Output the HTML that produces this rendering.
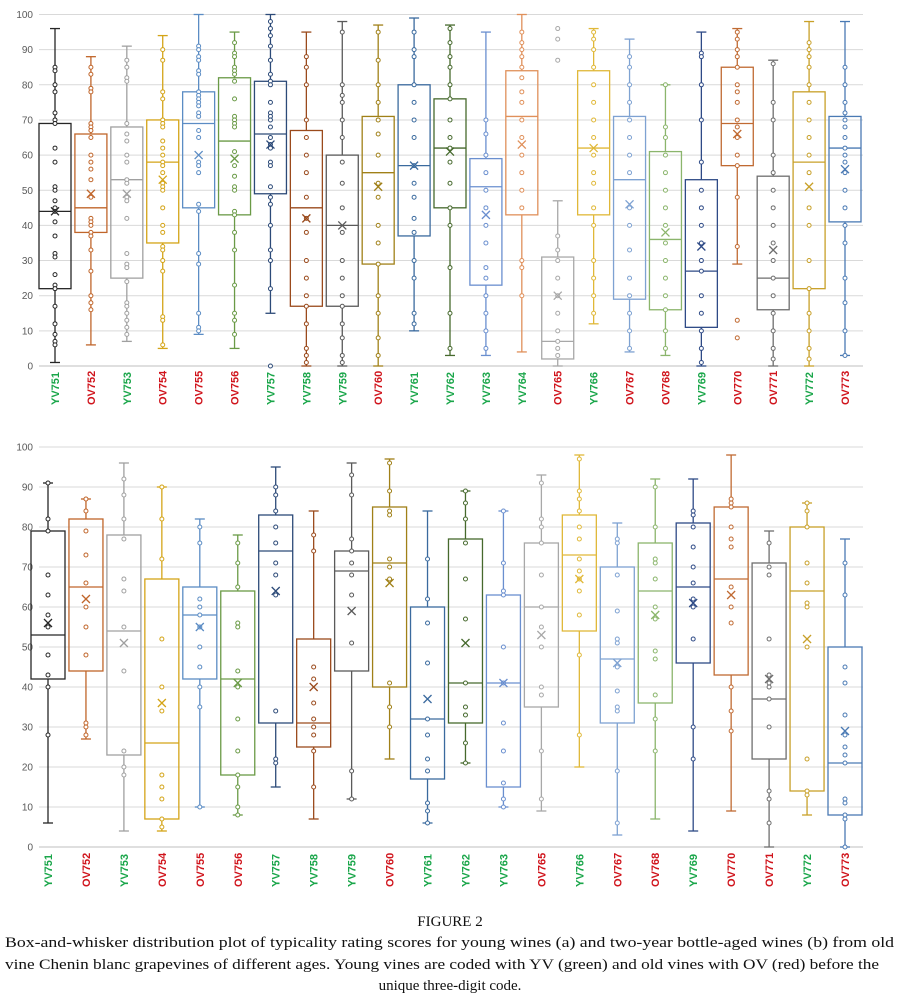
<!DOCTYPE html>
<html><head><meta charset="utf-8"><style>
body{margin:0;background:#fff;}
svg{display:block;}
</style></head><body>
<svg id="fig" width="901" height="1002" viewBox="0 0 901 1002" xmlns="http://www.w3.org/2000/svg" font-family="'Liberation Sans', sans-serif">
<g id="chartA"></g>
<g id="chartB"></g>
<g font-family="'Liberation Serif', serif" font-size="15" fill="#111">
<text x="450" y="926" text-anchor="middle">FIGURE 2</text>
<text x="5" y="947" textLength="889" lengthAdjust="spacingAndGlyphs">Box-and-whisker distribution plot of typicality rating scores for young wines (a) and two-year bottle-aged wines (b) from old</text>
<text x="5" y="969" textLength="874" lengthAdjust="spacingAndGlyphs">vine Chenin blanc grapevines of different ages. Young vines are coded with YV (green) and old vines with OV (red) before the</text>
<text x="450" y="990" text-anchor="middle">unique three-digit code.</text>
</g>
</svg>
<script>
const catsA=["YV751","OV752","YV753","OV754","OV755","OV756","YV757","YV758","YV759","OV760","YV761","YV762","YV763","YV764","OV765","YV766","OV767","OV768","YV769","OV770","OV771","YV772","OV773"];
const minA=[1,6,7,5,9,5,15,0,0,0,10,3,3,4,0,12,4,3,0,29,0,0,3];
const q1A=[22,38,25,35,45,43,49,17,17,29,37,45,23,43,2,43,19,16,11,57,16,22,41];
const medA=[44,45,53,58,69,64,66,45,40,55,57,62,51,71,7,62,53,36,27,69,25,58,62];
const q3A=[69,66,68,70,78,82,81,67,60,71,80,76,59,84,31,84,71,61,53,85,54,78,71];
const maxA=[96,88,91,94,100,95,100,95,98,97,99,97,95,100,47,96,93,80,95,96,87,98,98];
const meanA=[44,49,49,53,60,59,63,42,40,51,57,61,43,63,20,62,46,38,34,66,33,51,56];
const ptsA=[
[85,84,80,78,72,70,69,62,58,51,50,47,45,44,41,37,32,31,26,23,22,17,12,9,7,6],
[85,83,79,78,69,68,67,65,60,58,56,53,48,42,41,40,38,37,33,27,20,18,16],
[87,85,82,81,69,66,64,60,58,53,52,48,47,42,32,29,28,24,18,17,15,13,11,9],
[90,87,78,76,70,69,68,64,62,60,58,57,55,52,51,50,45,40,38,34,33,30,27,14,13,6],
[91,90,88,87,84,83,78,77,76,75,74,72,71,67,65,58,57,55,46,44,32,29,15,11,10],
[92,89,88,85,84,83,81,76,71,70,69,68,61,57,54,51,50,44,43,38,33,23,15,13,9],
[98,96,94,91,87,83,81,80,75,72,71,70,68,65,63,62,58,57,51,48,46,40,33,30,22,0],
[88,85,80,70,65,60,55,48,42,38,30,25,20,17,12,5,3,1],
[95,80,77,75,70,65,58,52,45,38,30,25,20,17,12,8,3,1],
[95,87,80,75,70,66,60,52,48,40,35,29,20,15,8,3],
[95,90,88,80,75,70,65,57,52,48,42,38,30,25,15,12],
[96,92,88,85,80,76,70,65,62,58,52,45,40,28,15,5],
[70,66,60,55,50,45,40,35,28,25,20,15,10,5],
[95,92,90,88,85,82,78,75,70,65,60,55,50,45,30,28,20],
[96,93,87,37,33,30,25,20,15,10,7,5,3],
[95,93,90,85,80,75,70,65,60,55,52,45,40,30,25,20,15],
[88,85,80,75,70,65,60,55,45,40,33,25,20,15,10,5],
[80,68,65,60,55,50,45,40,35,30,25,20,16,10,5],
[89,88,80,70,58,50,45,40,35,30,27,20,15,10,5,1],
[95,93,90,88,85,80,78,75,70,68,65,60,57,48,34,13,8],
[86,75,70,60,55,50,45,40,35,30,25,20,15,10,5,2],
[92,90,88,85,80,75,70,65,60,55,45,40,30,22,15,10,5,2],
[85,80,75,72,70,68,65,62,60,58,55,50,45,40,35,25,18,10,3]];

const catsB=["YV751","OV752","YV753","OV754","OV755","OV756","YV757","YV758","YV759","OV760","YV761","YV762","YV763","OV765","YV766","OV767","OV768","YV769","OV770","OV771","YV772","OV773"];
const minB=[6,27,4,4,10,8,15,7,12,22,6,21,10,9,20,3,7,4,9,0,8,0];
const q1B=[42,44,23,7,42,18,31,25,44,40,17,31,15,35,54,31,36,46,43,22,14,8];
const medB=[53,65,54,26,58,42,74,31,69,71,32,41,41,60,73,47,64,65,67,37,64,21];
const q3B=[79,82,78,67,65,64,83,52,74,85,60,77,63,76,83,70,76,81,85,71,80,50];
const maxB=[91,87,96,90,82,78,95,84,96,97,84,89,84,93,98,81,92,92,98,79,86,77];
const meanB=[56,62,51,36,55,41,64,40,59,66,37,51,41,53,67,46,58,61,63,42,52,29];
const ptsB=[
[91,82,79,68,63,58,55,48,43,40,28],
[87,84,79,73,66,60,55,48,31,30,28],
[92,88,82,77,67,64,55,44,24,20,18],
[90,82,72,52,40,34,18,15,12,7,5],
[80,76,62,60,58,55,50,45,40,35,10],
[76,71,65,56,55,44,40,32,24,18,15,10,8],
[90,88,84,80,76,71,68,63,34,22,21],
[78,74,45,42,36,32,30,28,24,15],
[93,88,77,74,71,68,63,51,19,12],
[96,89,84,83,72,70,67,41,35,30],
[72,62,56,46,32,28,22,19,11,9,6],
[89,86,82,76,67,57,41,35,33,26,21],
[84,71,64,63,50,41,31,24,16,12,10],
[91,82,80,76,68,60,55,50,40,38,24,12],
[97,89,87,84,80,77,72,69,67,64,58,48,28],
[77,76,68,59,52,51,45,39,35,34,19,6],
[90,80,72,71,67,60,57,49,47,38,32,24],
[84,83,80,75,70,66,62,60,52,30,22],
[87,86,85,80,77,75,65,60,56,40,34,29],
[76,70,68,52,43,41,40,37,30,14,12,6],
[86,84,80,71,66,61,60,50,22,14,13],
[71,63,45,41,33,28,25,23,21,12,11,8,7,0]];

const colorByCode={"751":"#262626","752":"#c0652a","753":"#a0a0a0","754":"#d4a417","755":"#5b8cc4","756":"#6a9a46","757":"#2c4a78","758":"#9a4a1c","759":"#5a5a5a","760":"#a08018","761":"#3a6a9e","762":"#46692d","763":"#6a8fcf","764":"#e0905a","765":"#a8a8a8","766":"#e0b838","767":"#7ea2d2","768":"#8bb56c","769":"#2e4a86","770":"#c06a32","771":"#6e6e6e","772":"#c8a028","773":"#4a7ab4"};
const yTicks=[0,10,20,30,40,50,60,70,80,90,100];
const NS="http://www.w3.org/2000/svg";

function mk(parent,tag,attrs){const e=document.createElementNS(NS,tag);for(const k in attrs)e.setAttribute(k,attrs[k]);parent.appendChild(e);return e;}

function drawChart(g,cats,mins,q1s,meds,q3s,maxs,means,pts,cfg){
  const y=v=>cfg.y0-(v/100)*(cfg.y0-cfg.y100);
  const n=cats.length;
  const x=i=>cfg.xFirst+i*(cfg.xLast-cfg.xFirst)/(n-1);
  yTicks.forEach(t=>{
    const ln=mk(g,"line",{x1:cfg.left,x2:cfg.right,y1:y(t),y2:y(t),stroke:t===0?"#bfbfbf":"#d9d9d9","stroke-width":1});
    
    
    const tx=mk(g,"text",{x:33,y:y(t)+3.5,"text-anchor":"end","font-size":10,fill:"#595959"});
    tx.textContent=t;
    
    
  });
  cats.forEach((c,i)=>{
    const col=colorByCode[c.slice(2)];
    const cx=x(i), hw=cfg.bw/2;
    const bg=mk(g,"g",{stroke:col,fill:"none","stroke-width":1.3});
    
    
    mk(bg,"line",{x1:cx,x2:cx,y1:y(maxs[i]),y2:y(q3s[i])});
    mk(bg,"line",{x1:cx,x2:cx,y1:y(q1s[i]),y2:y(mins[i])});
    mk(bg,"line",{x1:cx-5,x2:cx+5,y1:y(maxs[i]),y2:y(maxs[i])});
    mk(bg,"line",{x1:cx-5,x2:cx+5,y1:y(mins[i]),y2:y(mins[i])});
    mk(bg,"rect",{x:cx-hw,y:y(q3s[i]),width:cfg.bw,height:y(q1s[i])-y(q3s[i])});
    mk(bg,"line",{x1:cx-hw,x2:cx+hw,y1:y(meds[i]),y2:y(meds[i])});
    pts[i].forEach(v=>{mk(bg,"circle",{cx:cx,cy:y(v),r:2,fill:"#fff","stroke-width":1});});
    const my=y(means[i]);
    mk(bg,"path",{d:`M${cx-4} ${my-4}L${cx+4} ${my+4}M${cx-4} ${my+4}L${cx+4} ${my-4}`});
    const lb=mk(g,"text",{x:0,y:0,"font-size":11,"font-weight":"bold",fill:c.startsWith("YV")?"#1aa64a":"#d0141c",transform:`translate(${cx+4},${cfg.labelBottom}) rotate(-90)`});
    lb.textContent=c;
    
    
  });
}
drawChart(document.getElementById("chartA"),catsA,minA,q1A,medA,q3A,maxA,meanA,ptsA,{y0:366,y100:14.5,left:39,right:863,xFirst:55,xLast:845,bw:32,labelBottom:405});
drawChart(document.getElementById("chartB"),catsB,minB,q1B,medB,q3B,maxB,meanB,ptsB,{y0:847,y100:447,left:39,right:863,xFirst:48,xLast:845,bw:34,labelBottom:887});
</script>
</body></html>
